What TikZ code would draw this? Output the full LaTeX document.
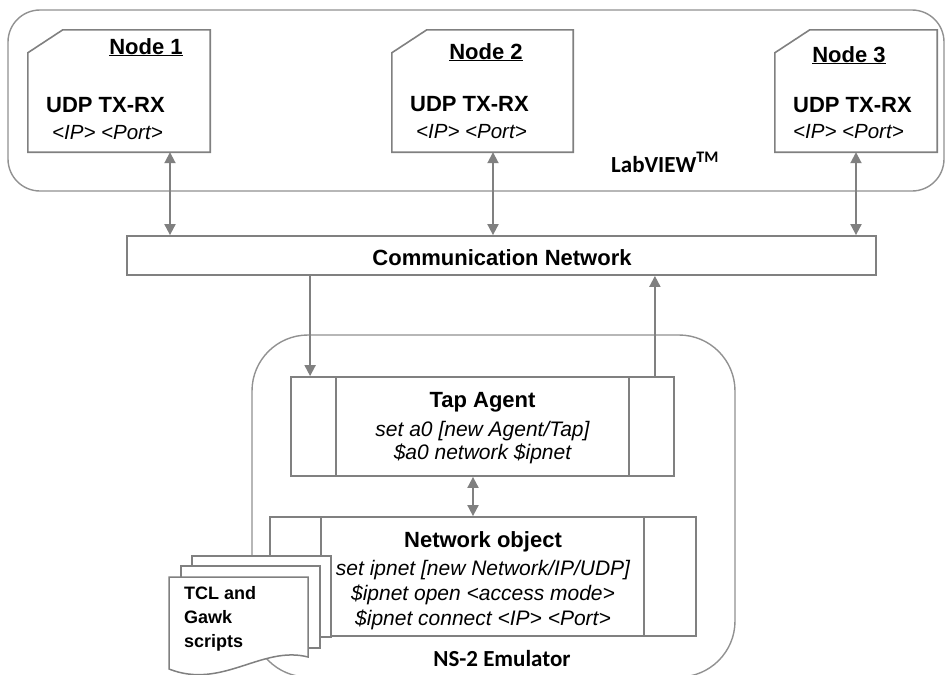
\documentclass[tikz,border=0pt]{standalone}
\usepackage{fontspec}
\setmainfont{Liberation Sans}
\newfontfamily\carlito{Carlito}
\usetikzlibrary{arrows.meta}
\definecolor{lg}{RGB}{128,128,128}
\definecolor{cg}{RGB}{145,145,145}
\begin{document}
\begin{tikzpicture}[x=1pt,y=-1pt,
  box/.style={draw=lg, line width=1.8pt, inner sep=0pt, fill=white},
  cont/.style={draw=cg, line width=1.4pt, inner sep=0pt},
  tip/.style={Triangle[length=11pt,width=11pt]},
  arr/.style={draw=lg, line width=1.9pt, -{Triangle[length=11pt,width=11pt]}},
  dbl/.style={draw=lg, line width=1.9pt, {Triangle[length=11pt,width=11pt]}-{Triangle[length=11pt,width=11pt]}},
  bt/.style={font=\fontsize{22}{26}\selectfont\bfseries, inner sep=0pt},
  it/.style={font=\fontsize{21}{25}\selectfont\itshape, inner sep=0pt},
  ipt/.style={font=\fontsize{20.5}{25}\selectfont\itshape, inner sep=0pt},
  ct/.style={font=\fontsize{23}{27}\selectfont\carlito\bfseries, inner sep=0pt},
  dt/.style={font=\fontsize{18}{22}\selectfont\bfseries, inner sep=0pt, anchor=base west},
  page/.style={draw=lg, line width=1.5pt, fill=white},
]
\useasboundingbox (0,0) rectangle (946,675);

% containers
\node[cont, rounded corners=32pt, minimum width=936pt, minimum height=181pt] (lab) at (476,100.5) {};
\node[cont, rounded corners=56pt, minimum width=483pt, minimum height=342pt] (ns) at (493.5,506) {};

% LabVIEW node frames
\node[minimum width=182pt, minimum height=122pt, inner sep=0pt] (n1) at (119,91) {};
\node[minimum width=181pt, minimum height=122pt, inner sep=0pt] (n2) at (482.5,91) {};
\node[minimum width=162pt, minimum height=122pt, inner sep=0pt] (n3) at (856,91) {};
\foreach \n in {n1,n2,n3}{
  \draw[draw=lg, line width=1.6pt] (\n.south west) -- (\n.south east) -- (\n.north east)
    -- ([xshift=35pt]\n.north west) -- ([yshift=-23pt]\n.north west) -- cycle;
}
\node[bt, anchor=base] (n1h) at (146,54) {\underline{Node 1}};
\node[bt, anchor=base] (n2h) at (486,59) {\underline{Node 2}};
\node[bt, anchor=base] (n3h) at (849,62) {\underline{Node 3}};
\node[bt, anchor=base west] (n1u) at (46,112) {UDP TX-RX};
\node[bt, anchor=base west] (n2u) at (410,111) {UDP TX-RX};
\node[bt, anchor=base west] (n3u) at (793,112) {UDP TX-RX};
\node[ipt, anchor=base west] (n1i) at (52,139) {<IP> <Port>};
\node[ipt, anchor=base west] (n2i) at (416,138) {<IP> <Port>};
\node[ipt, anchor=base west] (n3i) at (793,138) {<IP> <Port>};
\node[ct, anchor=base west] (labt) at (611,172) {LabVIEW\textsuperscript{TM}};

% communication network
\node[box, minimum width=749pt, minimum height=39pt] (comm) at (501.5,255.5) {};
\node[bt, anchor=base] (commt) at (502,265) {Communication Network};

% tap agent
\node[box, minimum width=383pt, minimum height=99pt] (tap) at (482.5,426.5) {};
\draw[draw=lg, line width=1.8pt] ([xshift=46pt]tap.north west) -- ([xshift=46pt]tap.south west);
\draw[draw=lg, line width=1.8pt] ([xshift=-46pt]tap.north east) -- ([xshift=-46pt]tap.south east);
\node[bt, anchor=base] (tapt) at (482.5,407) {Tap Agent};
\node[it, anchor=base] (tap1) at (482.5,436.5) {set a0 [new Agent/Tap]};
\node[it, anchor=base] (tap2) at (482.5,459) {\$a0 network \$ipnet};

% network object
\node[box, minimum width=426pt, minimum height=119pt] (net) at (483,576.5) {};
\draw[draw=lg, line width=1.8pt] ([xshift=52pt]net.north west) -- ([xshift=52pt]net.south west);
\draw[draw=lg, line width=1.8pt] ([xshift=-53pt]net.north east) -- ([xshift=-53pt]net.south east);
\node[bt, anchor=base] (nett) at (483,547) {Network object};
\node[it, anchor=base] (net1) at (483,575) {set ipnet [new Network/IP/UDP]};
\node[it, anchor=base] (net2) at (483,600.5) {\$ipnet open <access mode>};
\node[it, anchor=base] (net3) at (483,625.5) {\$ipnet connect <IP> <Port>};
\node[ct, anchor=base] (nst) at (502,666) {NS-2 Emulator};

% arrows
\draw[dbl] ([xshift=51pt]n1.south) -- ([xshift=51pt]n1.south |- comm.north);
\draw[dbl] ([xshift=10.5pt]n2.south) -- ([xshift=10.5pt]n2.south |- comm.north);
\draw[dbl] (n3.south) -- (n3.south |- comm.north);
\draw[arr] ([xshift=20pt]tap.north west |- comm.south) -- ([xshift=20pt]tap.north west);
\draw[arr] ([xshift=-20pt]tap.north east) -- ([xshift=-20pt]tap.north east |- comm.south);
\draw[dbl] ([xshift=-9.5pt]tap.south) -- ([xshift=-9.5pt]tap.south |- net.north);

% multiple documents
\draw[page] (192,556) rectangle (331,637);
\draw[page] (181,566) rectangle (320,648);
\draw[page] (169,577) -- (308,577) -- (308,657)
  .. controls (262,645) and (222,690) .. (169,669) -- cycle;
\node[dt] (d1) at (184,599.5) {TCL and};
\node[dt] (d2) at (184,623.5) {Gawk};
\node[dt] (d3) at (184,647) {scripts};
\end{tikzpicture}
\end{document}
